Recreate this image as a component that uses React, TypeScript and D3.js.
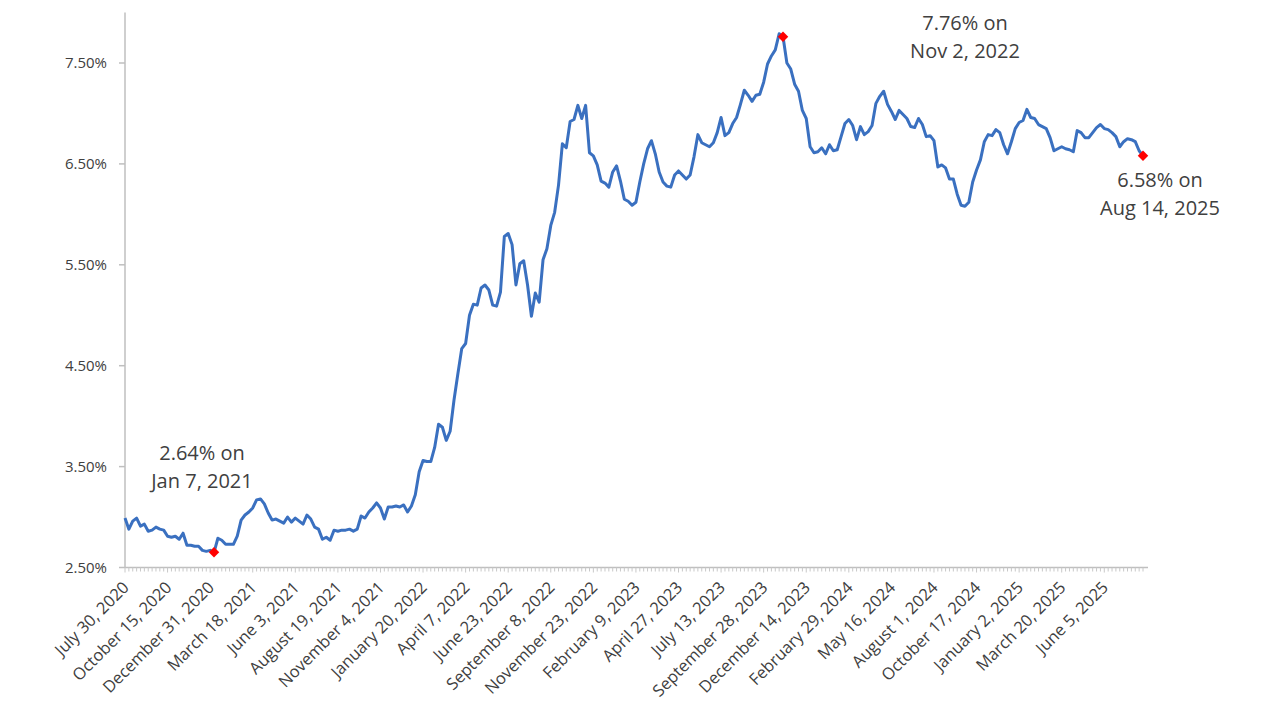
import React from "react";
import * as d3 from "d3";

// Weekly 30-year fixed mortgage rate (%), Jul 30 2020 – Aug 14 2025
const rates2020 = [2.99, 2.88, 2.96, 2.99, 2.91, 2.93, 2.86, 2.87, 2.90, 2.88, 2.87, 2.81, 2.80, 2.81, 2.78, 2.84, 2.72, 2.72, 2.71, 2.71, 2.67, 2.66, 2.67];
const rates2021 = [2.65, 2.79, 2.77, 2.73, 2.73, 2.73, 2.81, 2.97, 3.02, 3.05, 3.09, 3.17, 3.18, 3.13, 3.04, 2.97, 2.98, 2.96, 2.94, 3.00, 2.95, 2.99, 2.96, 2.93, 3.02, 2.98, 2.90, 2.88, 2.78, 2.80, 2.77, 2.87, 2.86, 2.87, 2.87, 2.88, 2.86, 2.88, 3.01, 2.99, 3.05, 3.09, 3.14, 3.09, 2.98, 3.10, 3.10, 3.11, 3.10, 3.12, 3.05, 3.11];
const rates2022 = [3.22, 3.45, 3.56, 3.55, 3.55, 3.69, 3.92, 3.89, 3.76, 3.85, 4.16, 4.42, 4.67, 4.72, 5.00, 5.11, 5.10, 5.27, 5.30, 5.25, 5.10, 5.09, 5.23, 5.78, 5.81, 5.70, 5.30, 5.51, 5.54, 5.30, 4.99, 5.22, 5.13, 5.55, 5.66, 5.89, 6.02, 6.29, 6.70, 6.66, 6.92, 6.94, 7.08, 6.95, 7.08, 6.61, 6.58, 6.49, 6.33, 6.31, 6.27, 6.42];
const rates2023 = [6.48, 6.33, 6.15, 6.13, 6.09, 6.12, 6.32, 6.50, 6.65, 6.73, 6.60, 6.42, 6.32, 6.28, 6.27, 6.39, 6.43, 6.39, 6.35, 6.39, 6.57, 6.79, 6.71, 6.69, 6.67, 6.71, 6.81, 6.96, 6.78, 6.81, 6.90, 6.96, 7.09, 7.23, 7.18, 7.12, 7.18, 7.19, 7.31, 7.49, 7.57, 7.63, 7.79, 7.76, 7.50, 7.44, 7.29, 7.22, 7.03, 6.95, 6.67, 6.61];
const rates2024 = [6.62, 6.66, 6.60, 6.69, 6.63, 6.64, 6.77, 6.90, 6.94, 6.88, 6.74, 6.87, 6.79, 6.82, 6.88, 7.10, 7.17, 7.22, 7.09, 7.02, 6.94, 7.03, 6.99, 6.95, 6.87, 6.86, 6.95, 6.89, 6.77, 6.78, 6.73, 6.47, 6.49, 6.46, 6.35, 6.35, 6.20, 6.09, 6.08, 6.12, 6.32, 6.44, 6.54, 6.72, 6.79, 6.78, 6.84, 6.81, 6.69, 6.60, 6.72, 6.85];
const rates2025 = [6.91, 6.93, 7.04, 6.96, 6.95, 6.89, 6.87, 6.85, 6.76, 6.63, 6.65, 6.67, 6.65, 6.64, 6.62, 6.83, 6.81, 6.76, 6.76, 6.81, 6.86, 6.89, 6.85, 6.84, 6.81, 6.77, 6.67, 6.72, 6.75, 6.74, 6.72, 6.63, 6.58];

const rates: number[] = [...rates2020, ...rates2021, ...rates2022, ...rates2023, ...rates2024, ...rates2025];

// Category labels shown every 11 weeks
const tickLabels = [
  "July 30, 2020", "October 15, 2020", "December 31, 2020", "March 18, 2021",
  "June 3, 2021", "August 19, 2021", "November 4, 2021", "January 20, 2022",
  "April 7, 2022", "June 23, 2022", "September 8, 2022", "November 23, 2022",
  "February 9, 2023", "April 27, 2023", "July 13, 2023", "September 28, 2023",
  "December 14, 2023", "February 29, 2024", "May 16, 2024", "August 1, 2024",
  "October 17, 2024", "January 2, 2025", "March 20, 2025", "June 5, 2025",
];
const tickEvery = 11;

const yTicks = [2.5, 3.5, 4.5, 5.5, 6.5, 7.5];

// Highlighted points (week index) and their callouts
const highlightIdx = [23, 170, 263];
const calloutLines = [
  ["2.64% on", "Jan 7, 2021"],
  ["7.76% on", "Nov 2, 2022"],
  ["6.58% on", "Aug 14, 2025"],
];

const W = 1280;
const H = 720;
const left = 125;
const right = 1143;
const yMin = 2.5;
const yMax = 8.0;

export default function App() {
  const n = rates.length;
  const x = d3.scaleLinear().domain([0, n - 1]).range([left, right]);
  const y = d3.scaleLinear().domain([2.5, 7.5]).range([567.5, 63]);
  const axisEnd = right + 5;

  const line = d3
    .line<number>()
    .x((_, i) => x(i))
    .y((d) => y(d));

  const fmt = d3.format(".2f");
  const font = "'Open Sans', 'Liberation Sans', sans-serif";
  const calloutPos = [
    { cx: 202, y: 460 },
    { cx: 965, y: 30 },
    { cx: 1160, y: 187 },
  ];

  return (
    <svg
      width={W}
      height={H}
      style={{ position: "absolute", left: 0, top: 0, background: "#fff" }}
      fontFamily={font}
    >
      <rect width={W} height={H} fill="#fff" />
      {/* y axis */}
      <line x1={left} x2={left} y1={y(yMax)} y2={y(yMin)} stroke="#bfbfbf" strokeWidth={1.5} />
      {yTicks.map((t) => (
        <g key={t}>
          <line x1={left - 6} x2={left} y1={y(t)} y2={y(t)} stroke="#bfbfbf" strokeWidth={1.5} />
          <text x={107} y={y(t)} dy="0.35em" textAnchor="end" fontSize={15} fill="#404040">
            {fmt(t)}%
          </text>
        </g>
      ))}
      {/* x axis */}
      <line x1={left} x2={axisEnd} y1={y(yMin)} y2={y(yMin)} stroke="#bfbfbf" strokeWidth={1.5} />
      {rates.map((_, i) => (
        <line
          key={i}
          x1={x(i)}
          x2={x(i)}
          y1={y(yMin)}
          y2={y(yMin) + (i % tickEvery === 0 ? 5 : 4)}
          stroke="#c8c8c8"
          strokeWidth={1}
        />
      ))}
      {tickLabels.map((lab, k) => {
        const xi = x(k * tickEvery);
        return (
          <text
            key={lab}
            transform={`translate(${xi + 5},${y(yMin) + 21}) rotate(-45)`}
            textAnchor="end"
            fontSize={16.5}
            fill="#404040"
          >
            {lab}
          </text>
        );
      })}
      {/* series */}
      <path d={line(rates) || ""} fill="none" stroke="#3a70c0" strokeWidth={3} strokeLinejoin="round" />
      {highlightIdx.map((idx) => (
        <path
          key={idx}
          d={d3.symbol(d3.symbolDiamond2, 70)() || ""}
          transform={`translate(${x(idx)},${y(rates[idx])})`}
          fill="#ff0000"
        />
      ))}
      {calloutLines.map((lines, k) => (
        <text key={k} textAnchor="middle" fontSize={20} fill="#404040">
          {lines.map((t, j) => (
            <tspan key={j} x={calloutPos[k].cx} y={calloutPos[k].y + j * 28}>
              {t}
            </tspan>
          ))}
        </text>
      ))}
    </svg>
  );
}
